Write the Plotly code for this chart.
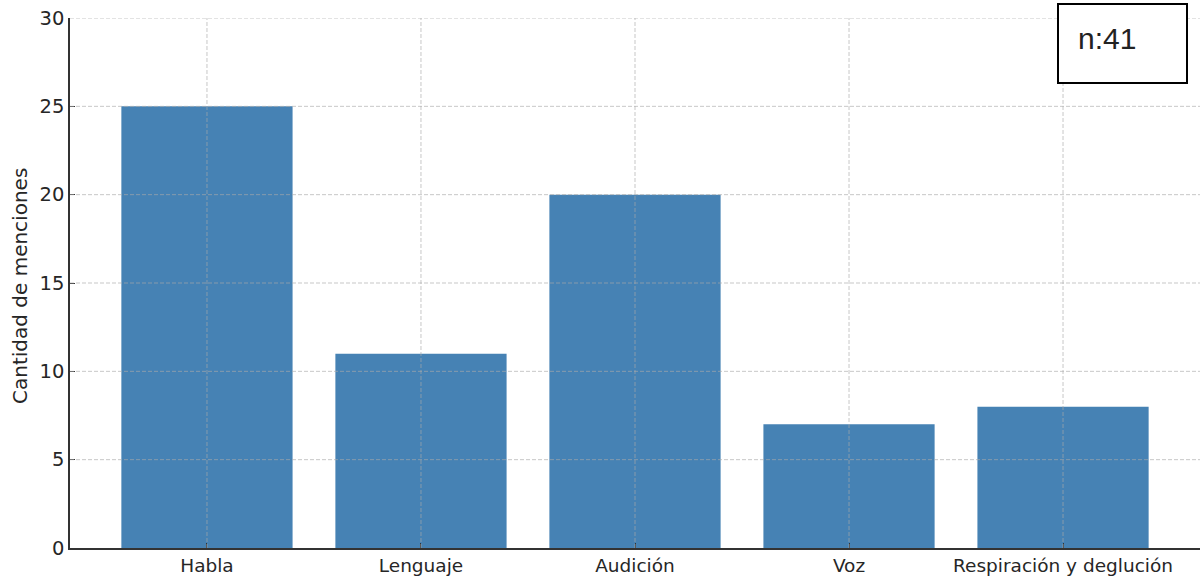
import plotly.graph_objects as go

categories = ["Habla", "Lenguaje", "Audición", "Voz", "Respiración y deglución"]
menciones = [25, 11, 20, 7, 8]
y_ticks = [0, 5, 10, 15, 20, 25, 30]
n_label = "n:41"
y_title = "Cantidad de menciones"

W, H = 1201, 576
L, R, T, B = 70, 1, 18, 28
pw, ph = W - L - R, H - T - B

fig = go.Figure()
fig.add_trace(go.Bar(x=categories, y=menciones, marker=dict(color="#4682B4", line=dict(width=0)),
                     width=0.8))

grid = dict(color="rgba(170,170,170,0.65)", width=1, dash="4px,2px")
shapes = []
for c in categories:
    shapes.append(dict(type="line", xref="x", yref="paper", x0=c, x1=c, y0=0, y1=1,
                       line=grid, layer="above"))
for v in y_ticks[1:]:
    shapes.append(dict(type="line", xref="paper", yref="y", x0=0, x1=1, y0=v, y1=v,
                       line=grid, layer="above"))

def px2x(p):
    return (p - L) / pw

def px2y(p):
    return (H - B - p) / ph

shapes.append(dict(type="rect", xref="paper", yref="paper",
                   x0=px2x(1058), x1=px2x(1187), y0=px2y(83), y1=px2y(4),
                   line=dict(color="black", width=2), fillcolor="white", layer="above"))

fig.update_layout(
    width=W, height=H,
    margin=dict(l=L, r=R, t=T, b=B, autoexpand=False),
    paper_bgcolor="white", plot_bgcolor="white",
    font=dict(family="DejaVu Sans", size=19, color="#262626"),
    showlegend=False,
    shapes=shapes,
    annotations=[
        dict(text=n_label, xref="paper", yref="paper",
             x=px2x(1107), y=px2y(38), xanchor="center", yanchor="middle",
             showarrow=False, font=dict(family="Liberation Sans", size=30, color="#222")),
        dict(text=y_title, xref="paper", yref="paper", textangle=-90,
             x=px2x(20), y=px2y(286), xanchor="center", yanchor="middle",
             showarrow=False, font=dict(size=20)),
    ],
    xaxis=dict(type="category", range=[-0.64, 4.64], showgrid=False, zeroline=False,
               showline=True, linecolor="#333", linewidth=1.5,
               ticks="inside", ticklen=5, tickcolor="#333", tickwidth=1.2,
               tickfont=dict(size=18.5), layer="above traces", automargin=False,
               ticklabeloverflow="allow"),
    yaxis=dict(range=[0, 30], tickvals=y_ticks, showgrid=False, zeroline=False,
               showline=True, linecolor="#333", linewidth=1.5,
               ticks="inside", ticklen=5, tickcolor="#333", tickwidth=1.2,
               tickfont=dict(size=19.5), layer="above traces", automargin=False,
               ticklabeloverflow="allow"),
)

fig.write_html("out.html", config={"displayModeBar": False},
               post_script="document.body.style.margin='0';document.body.style.overflow='hidden';")
